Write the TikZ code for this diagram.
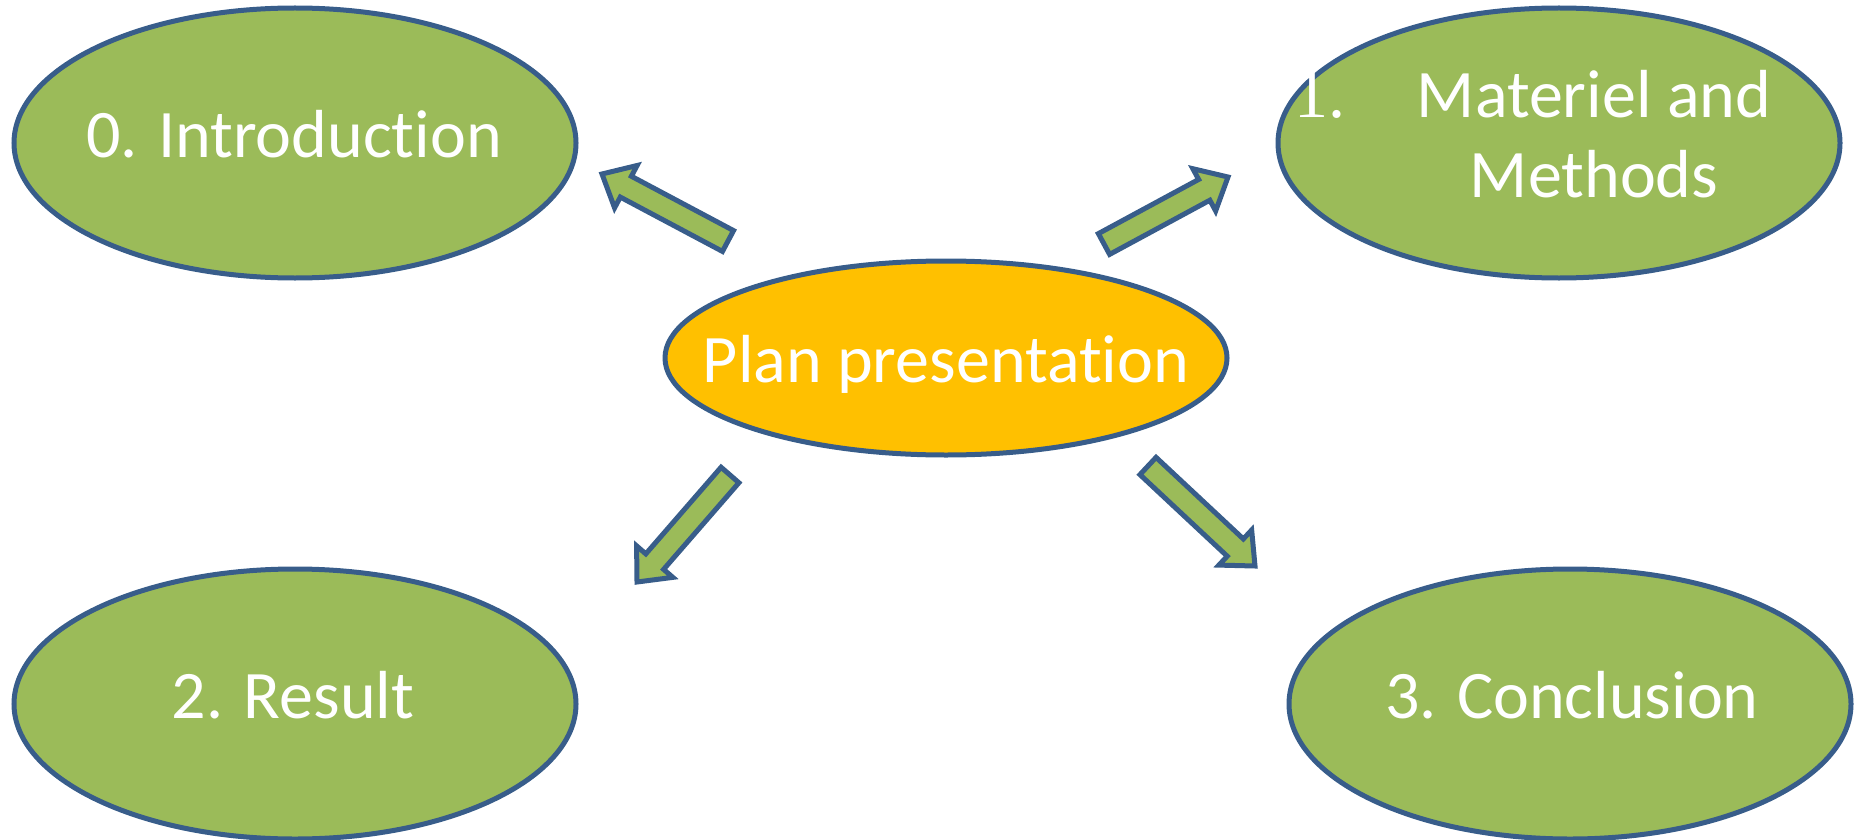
\documentclass[tikz,border=0pt]{standalone}
\usepackage{fontspec}
\setmainfont[Ligatures=NoCommon]{Carlito}
\newfontfamily\numfont{Liberation Serif}
\usetikzlibrary{shapes.geometric,calc}
\definecolor{leaf}{HTML}{9BBB59}
\definecolor{rim}{HTML}{385D8A}
\definecolor{gold}{HTML}{FFC000}
\tikzset{
  oval/.style={ellipse, draw=rim, line width=2.5pt, fill=leaf, inner sep=0pt,
    minimum width=281pt, minimum height=135pt},
  lbl/.style={text=white, inner sep=0pt, font=\fontsize{34pt}{39.5pt}\selectfont},
  blockarrow/.style={draw=rim, fill=leaf, line width=2.5pt, line join=miter},
}
\newcommand\blockarr[2]{%
  \path ($(#2)!13.5pt!(#1)$) coordinate (hb);
  \draw[blockarrow] ($(#1)!5.9pt!90:(#2)$) -- ($(hb)!5.9pt!-90:(#1)$) -- ($(hb)!12pt!-90:(#1)$) -- (#2) -- ($(hb)!12pt!90:(#1)$) -- ($(hb)!5.9pt!90:(#1)$) -- ($(#1)!5.9pt!-90:(#2)$) -- cycle;}
\begin{document}
\begin{tikzpicture}[x=0.5pt, y=-0.5pt]
\useasboundingbox (0,0) rectangle (1868,840);
% ellipses
\node[oval] (intro) at (295,143) {};
\node[oval] (mat) at (1559,143) {};
\node[oval, fill=gold, minimum height=97pt] (plan) at (946,358) {};
\node[oval] (res) at (295,704) {};
\node[oval] (conc) at (1570,704) {};
% texts
\node[lbl, anchor=base] (tintro) at (294,157) {0. Introduction};
\node[lbl, anchor=base] (tplan) at (946,382) {Plan presentation};
\node[lbl, anchor=base] (tres) at (293,718) {2. Result};
\node[lbl, anchor=base] (tconc) at (1572,718) {3. Conclusion};
\node[lbl, anchor=base] (tmat1) at (1594,118) {Materiel and};
\node[lbl, anchor=base] (tmat2) at (1594,197) {Methods};
\node[lbl, anchor=base west, font=\numfont\fontsize{34pt}{39.5pt}\selectfont] (tnum) at (1294,118) {1.};
% block arrows
\coordinate (a1s) at (728,241);  \coordinate (a1e) at (602,174);
\coordinate (a2s) at (1104,244); \coordinate (a2e) at (1228,177);
\coordinate (a3s) at (730,475); \coordinate (a3e) at (637,582);
\coordinate (a4s) at (1148,466);   \coordinate (a4e) at (1255,566);
\blockarr{a1s}{a1e}
\blockarr{a2s}{a2e}
\blockarr{a3s}{a3e}
\blockarr{a4s}{a4e}
\end{tikzpicture}
\end{document}
